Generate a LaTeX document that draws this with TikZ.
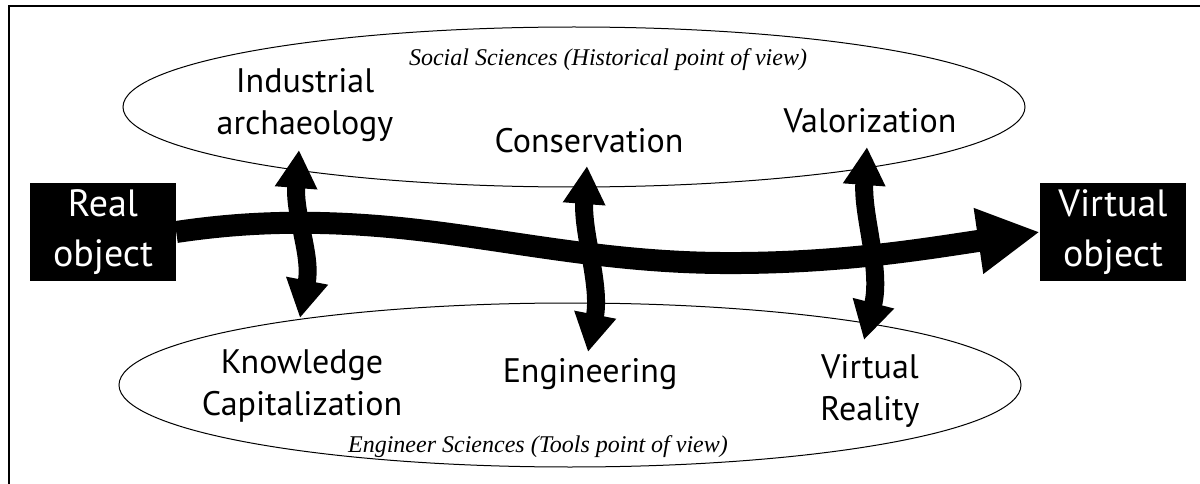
\documentclass[tikz,border=0pt]{standalone}
\usepackage{fontspec}
\setmainfont{PT Sans}
\newfontfamily\lserif{Liberation Serif}
\usetikzlibrary{arrows.meta,shapes.geometric}
\begin{document}
\begin{tikzpicture}[x=1pt,y=-1pt,
  obj/.style={fill=black,text=white,inner sep=0pt,minimum width=146pt,minimum height=98pt,align=center,font=\fontsize{38}{50}\selectfont},
  lab/.style={inner sep=0pt,align=center,font=\fontsize{34}{42}\selectfont},
  ital/.style={inner sep=0pt,font=\lserif\itshape\fontsize{24}{28}\selectfont,anchor=base},
  field/.style={draw,ellipse,line width=1pt,inner sep=0pt,minimum width=902pt},
  flow/.style={line width=22pt,-{Triangle[length=62pt,width=62pt]}},
  link/.style={line width=18pt,{Triangle[length=38pt,width=40pt]}-{Triangle[length=38pt,width=40pt]}}
]
\useasboundingbox (0,0) rectangle (1200,484);
\draw[line width=2.5pt] (9,490) -- (9,6) -- (1205,6);

\node[field,minimum height=160pt] (social) at (574,107) {};
\node[field,minimum height=164pt] (engin) at (570,385) {};

\node[obj] (real) at (103,232) {Real\\object};
\node[obj] (virt) at (1113,232) {Virtual\\object};

\draw[flow] (real.east) .. controls (230,224) and (300,218) .. (400,228)
  .. controls (500,238) and (600,262) .. (720,263)
  .. controls (840,264) and (930,248) .. (virt.west);

\node[lab] (indarch) at (305,105.6) {\strut Industrial\\\strut archaeology};
\node[lab] (cons) at (589,144.6) {\strut Conservation};
\node[lab] (valo) at (870,124.6) {\strut Valorization};
\node[lab] (know) at (302,385.6) {\strut Knowledge\\\strut Capitalization};
\node[lab] (engg) at (590,373.6) {\strut Engineering};
\node[lab] (vr) at (870,390.6) {\strut Virtual\\\strut Reality};

\node[ital] (ss) at (608,66) {Social Sciences (Historical point of view)};
\node[ital] (es) at (538,452) {Engineer Sciences (Tools point of view)};

\coordinate (a1t) at (299,150); \coordinate (a1b) at (300,318);
\coordinate (a2t) at (587,166); \coordinate (a2b) at (588,352);
\coordinate (a3t) at (867,147); \coordinate (a3b) at (864,340);
\draw[link] (a1t) .. controls (294,215) and (312,255) .. (a1b);
\draw[link] (a2t) .. controls (582,232) and (601,285) .. (a2b);
\draw[link] (a3t) .. controls (862,215) and (882,270) .. (a3b);
\end{tikzpicture}
\end{document}
